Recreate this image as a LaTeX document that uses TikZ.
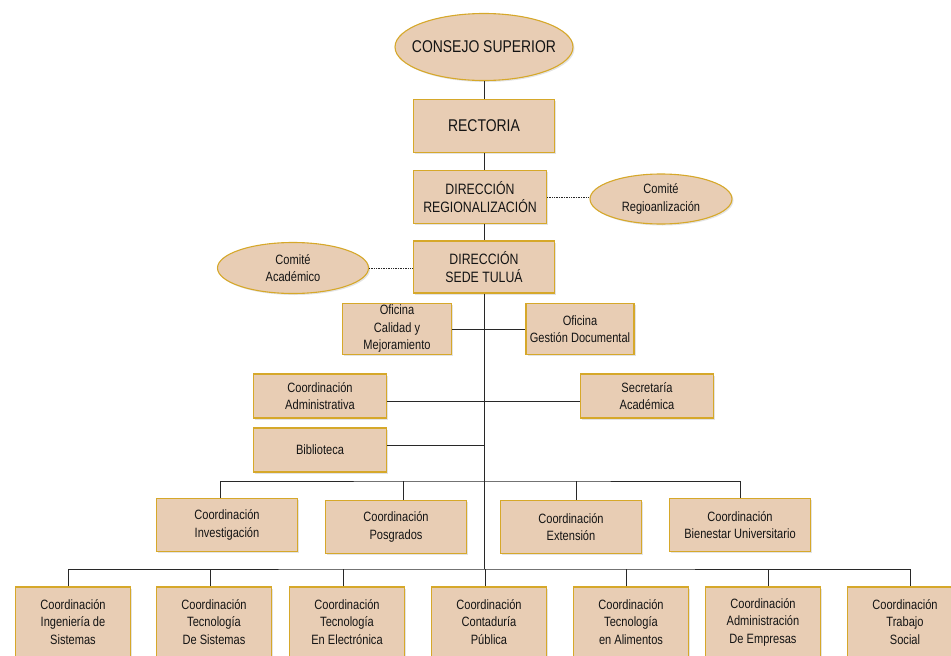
\documentclass[tikz,border=0pt]{standalone}
\usepackage{fontspec}
\setmainfont[FakeStretch=0.82]{Liberation Sans}
\usetikzlibrary{shapes.geometric,positioning,shadows}
\definecolor{colFill}{RGB}{232,205,180}
\definecolor{colEdge}{RGB}{214,168,42}
\definecolor{colLine}{RGB}{40,40,40}
\definecolor{colText}{RGB}{20,20,20}
\tikzset{
  unit/.style    = {rectangle, draw=colEdge, fill=colFill, line width=1.1pt,
                    text=colText, align=center, inner sep=2pt,
                    font=\fontsize{13.5}{17.5}\selectfont,
                    drop shadow={shadow xshift=1.5pt, shadow yshift=-1.5pt,
                                 opacity=0.22}},
  council/.style = {ellipse, draw=colEdge, fill=colFill, line width=1.1pt,
                    text=colText, align=center, inner sep=0pt,
                    font=\fontsize{13.5}{17.5}\selectfont,
                    drop shadow={shadow xshift=1.5pt, shadow yshift=-1.5pt,
                                 opacity=0.22}},
  bigtxt/.style  = {font=\fontsize{17}{20}\selectfont},
  midtxt/.style  = {font=\fontsize{15}{18}\selectfont},
  lvl3/.style    = {unit, minimum width=141pt, minimum height=53pt},
  lvl4/.style    = {unit, minimum width=115pt, minimum height=70pt},
  side/.style    = {unit, minimum width=133pt, minimum height=44pt},
  link/.style    = {draw=colLine, line width=1pt},
  dotlink/.style = {draw=colLine, densely dotted, line width=0.7pt},
}
\begin{document}
\begin{tikzpicture}[x=1pt, y=-1pt]
\useasboundingbox (0,0) rectangle (951,656);

%% Top of the chart
\node[council, bigtxt, inner xsep=-12pt, minimum width=178pt, minimum height=67pt]
  (consejo) at (484,47) {CONSEJO SUPERIOR};
\node[unit, bigtxt, minimum width=141pt, minimum height=53pt]
  (rector)  at (484,126) {RECTORIA};
\node[unit, midtxt, minimum width=133pt, minimum height=53pt]
  (regio)   at (480,197) {DIRECCIÓN\\REGIONALIZACIÓN};
\node[council, minimum width=142pt, minimum height=50pt]
  (comreg)  at (661,199) {Comité\\Regioanlización};
\node[unit, midtxt, minimum width=141pt, minimum height=52pt]
  (sede)    at (484,267) {DIRECCIÓN\\SEDE TULUÁ};
\node[council, minimum width=151pt, minimum height=51pt]
  (comacad) at (293,268) {Comité\\Académico};

%% Offices and staff units
\node[unit, minimum width=109pt, minimum height=51pt]
  (calidad) at (397,329) {Oficina\\Calidad y\\Mejoramiento};
\node[unit, minimum width=108pt, minimum height=51pt]
  (gestion) at (580,329) {Oficina\\Gestión Documental};
\node[side] (cadm)  at (320,396) {Coordinación\\Administrativa};
\node[side] (secre) at (647,396) {Secretaría\\Académica};
\node[side] (bibl)  at (320,450) {Biblioteca};

%% Coordinations
\node[lvl3] (inv)  at (227,525) {Coordinación\\Investigación};
\node[lvl3] (pos)  at (396,527) {Coordinación\\Posgrados};
\node[lvl3] (ext)  at (571,527) {Coordinación\\Extensión};
\node[lvl3] (bien) at (740,525) {Coordinación\\Bienestar Universitario};

%% Programs
\node[lvl4] (ing)  at (73,622)  {Coordinación\\Ingeniería de\\Sistemas};
\node[lvl4] (tsis) at (214,622) {Coordinación\\Tecnología\\De Sistemas};
\node[lvl4] (tele) at (347,622) {Coordinación\\Tecnología\\En Electrónica};
\node[lvl4] (cont) at (489,622) {Coordinación\\Contaduría\\Pública};
\node[lvl4] (tali) at (631,622) {Coordinación\\Tecnología\\en Alimentos};
\node[lvl4] (adm)  at (763,622) {Coordinación\\Administración\\De Empresas};
\node[lvl4] (trab) at (905,622) {Coordinación\\Trabajo\\Social};

\coordinate (b3) at (484,481);
\coordinate (b4) at (484,569);

%% Connectors
\draw[link] (consejo) -- (rector);
\draw[link] (rector.south) -- (rector.south |- regio.north);
\draw[link] (rector.south |- regio.south) -- (sede.north);
\draw[dotlink] (regio.east) -- (regio.east -| comreg.west);
\draw[dotlink] (comacad.east) -- (comacad.east -| sede.west);
\draw[link] (sede.south) -- (b4);
\draw[link] (calidad.east) -- (gestion.west);
\draw[link] ([yshift=-5pt]cadm.east) -- ([yshift=-5pt]cadm.east -| secre.west);
\draw[link] ([yshift=5pt]bibl.east) -- ([yshift=5pt]bibl.east -| b3);

\draw[link] ([xshift=-7pt]inv.north) |- (b3) -| (bien.north);
\foreach \n/\dx in {pos/7, ext/5}
  \draw[link] ([xshift=\dx pt]\n.north) -- ([xshift=\dx pt]\n.north |- b3);

\draw[link] ([xshift=-5pt]ing.north) |- (b4) -| ([xshift=5pt]trab.north);
\foreach \n/\dx in {tsis/-4, tele/-4, cont/-4, tali/-5, adm/5}
  \draw[link] ([xshift=\dx pt]\n.north) -- ([xshift=\dx pt]\n.north |- b4);

\end{tikzpicture}
\end{document}
